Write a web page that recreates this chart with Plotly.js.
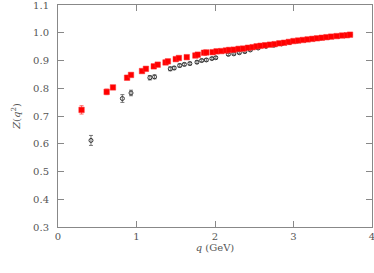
<!DOCTYPE html>
<html><head><meta charset="utf-8">
<script src="https://cdn.plot.ly/plotly-3.0.1.min.js"></script>
<style>html,body{margin:0;padding:0;background:#fff;}#plot{width:374px;height:273px;}</style>
</head><body><div id="plot"></div>
<script>
// red (filled) series
const redQ = [0.30,0.62,0.70,0.88,0.93,1.07,1.12,1.22,1.27,1.37,1.40,1.50,1.54,1.64,1.75,1.78,1.86,1.89,1.97,2.02,2.08,2.14,2.18,2.24,2.30,2.36,2.42,2.48,2.53,2.58,2.64,2.70,2.76,2.82,2.88,2.94,3.00,3.06,3.12,3.18,3.24,3.30,3.36,3.42,3.48,3.55,3.62,3.68,3.72];
const redZ = [0.722,0.787,0.803,0.838,0.848,0.862,0.870,0.879,0.885,0.893,0.897,0.905,0.909,0.912,0.918,0.921,0.928,0.929,0.930,0.933,0.934,0.936,0.938,0.939,0.942,0.943,0.946,0.948,0.951,0.953,0.955,0.957,0.959,0.962,0.964,0.967,0.970,0.972,0.974,0.976,0.978,0.980,0.982,0.984,0.986,0.988,0.990,0.991,0.993];
const redErr = [0.015,0.010,0.006,0.007,0.006,0.005,0.005,0.005,0.004,0.004,0.004,0.004,0.004,0.004,0.004,0.004,0.003,0.003,0.003,0.003,0.003,0.003,0.003,0.003,0.003,0.003,0.003,0.003,0.003,0.003,0.003,0.003,0.003,0.003,0.003,0.003,0.003,0.003,0.003,0.003,0.003,0.003,0.003,0.003,0.003,0.003,0.003,0.003,0.003];
// black (open) series
const blkQ = [0.42,0.82,0.93,1.17,1.23,1.43,1.48,1.55,1.61,1.68,1.77,1.83,1.89,1.96,2.01,2.17,2.24,2.31,2.38,2.45,2.55,2.65,2.75,2.85,2.95,3.05,3.15,3.25,3.35,3.45,3.58,3.72];
const blkZ = [0.612,0.763,0.783,0.838,0.841,0.870,0.873,0.882,0.886,0.889,0.894,0.900,0.902,0.907,0.910,0.922,0.924,0.928,0.932,0.938,0.945,0.951,0.955,0.960,0.965,0.970,0.974,0.978,0.981,0.984,0.988,0.993];
const blkErr = [0.018,0.014,0.010,0.008,0.007,0.007,0.006,0.006,0.005,0.005,0.005,0.005,0.005,0.004,0.004,0.004,0.004,0.004,0.004,0.004,0.004,0.004,0.004,0.004,0.004,0.004,0.004,0.004,0.004,0.004,0.004,0.004];
const xTicks = [0,1,2,3,4];
const yTicks = [0.3,0.4,0.5,0.6,0.7,0.8,0.9,1.0,1.1];

const font = {family:'DejaVu Serif, serif', size:10, color:'#555'};
const traces = [
  {x:blkQ, y:blkZ, type:'scatter', mode:'markers', cliponaxis:false,
   marker:{symbol:'circle-open', size:4, color:'#333', line:{width:1,color:'#333'}},
   error_y:{type:'data', array:blkErr, visible:true, color:'#555', thickness:0.8, width:2}},
  {x:redQ, y:redZ, type:'scatter', mode:'markers', cliponaxis:false,
   marker:{symbol:'square', size:5.5, color:'#ff0000', line:{width:0.5, color:'#ff3030'}},
   error_y:{type:'data', array:redErr, visible:true, color:'#ff4040', thickness:0.8, width:2}}
];
const axisCommon = {showgrid:false, zeroline:false, showline:true, mirror:'allticks', linecolor:'#888', linewidth:1,
  ticks:'inside', ticklen:6, tickcolor:'#888', tickfont:font, automargin:false, ticklabeloverflow:'allow'};
const layout = {
  width:374, height:273, showlegend:false,
  paper_bgcolor:'#fff', plot_bgcolor:'#fff',
  margin:{l:58, r:2, t:5, b:46},
  xaxis:Object.assign({}, axisCommon, {range:[0,4], tickvals:xTicks, ticktext:xTicks.map(String),
    title:{text:'<i>q</i> (GeV)', font:font, standoff:0}}),
  yaxis:Object.assign({}, axisCommon, {range:[0.3,1.1], tickvals:yTicks, ticktext:yTicks.map(v=>v.toFixed(1)),
    ticklabelstandoff:6,
    title:{text:'<i>Z</i>(<i>q</i><sup>2</sup>)', font:font, standoff:10}})
};
Plotly.newPlot('plot', traces, layout, {staticPlot:true, displayModeBar:false});
</script></body></html>
